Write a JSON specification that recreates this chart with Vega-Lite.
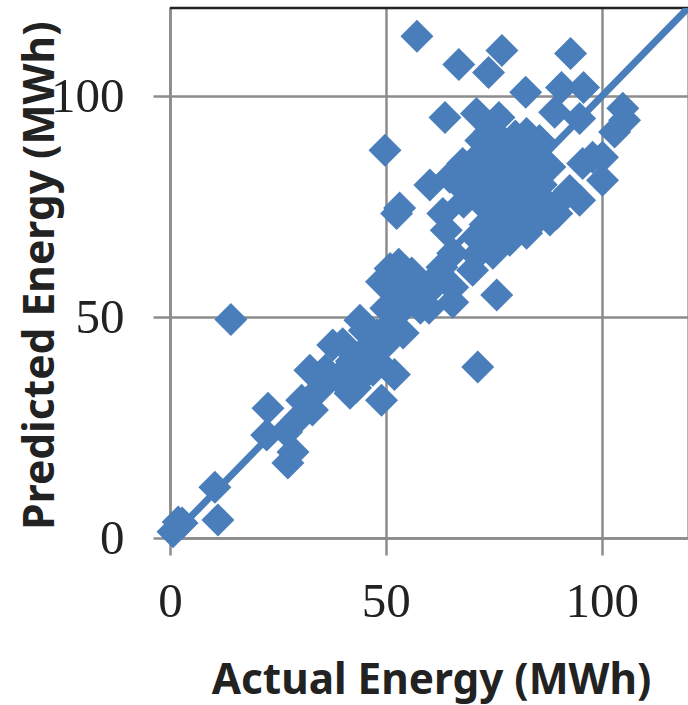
{"$schema":"https://vega.github.io/schema/vega-lite/v6.json","width":518,"height":530,"autosize":"none","padding":{"left":170,"top":8,"right":0,"bottom":167},"background":"white","view":{"stroke":"#999","strokeWidth":1.5},"config":{"axis":{"grid":true,"gridColor":"#8c8c8c","gridWidth":2.5,"domainColor":"#8c8c8c","domainWidth":2.5,"tickColor":"#8c8c8c","tickWidth":2.5,"tickSize":17,"labelFlush":false,"labelFont":"Liberation Serif","labelFontSize":49,"labelColor":"#222","titleFont":"Noto Sans","titleFontWeight":"bold","titleColor":"#222"}},"layer":[{"data":{"values":[{"a":120}]},"mark":{"type":"rule","color":"#222","strokeWidth":2.5},"encoding":{"y":{"field":"a","type":"quantitative","scale":{"domain":[0,120],"nice":false}}}},{"data":{"values":[{"actual":0,"pred":0},{"actual":120,"pred":120}]},"mark":{"type":"line","color":"#4a7ebb","strokeWidth":7,"clip":true},"encoding":{"x":{"field":"actual","type":"quantitative","scale":{"domain":[0,120],"nice":false},"axis":{"values":[0,50,100],"title":"Actual Energy (MWh)","titleFontSize":42.3,"labelPadding":22,"titleX":261,"titleY":142,"titleBaseline":"middle"}},"y":{"field":"pred","type":"quantitative","scale":{"domain":[0,120],"nice":false},"axis":{"values":[0,50,100],"title":"Predicted Energy (MWh)","titleFontSize":42.5,"labelPadding":29,"titleX":-130,"titleY":267,"titleBaseline":"middle"}}}},{"data":{"values":[{"actual":57.2,"pred":113.6},{"actual":66.9,"pred":107.2},{"actual":76.9,"pred":110.4},{"actual":73.8,"pred":105.4},{"actual":92.8,"pred":109.7},{"actual":82.4,"pred":100.9},{"actual":90.7,"pred":102},{"actual":95.8,"pred":102},{"actual":63.7,"pred":95.2},{"actual":71,"pred":96.1},{"actual":76.2,"pred":95.2},{"actual":89.1,"pred":96.4},{"actual":94.9,"pred":95},{"actual":104.9,"pred":97.3},{"actual":105.3,"pred":94.6},{"actual":103,"pred":91.9},{"actual":49.8,"pred":87.8},{"actual":53.2,"pred":74.7},{"actual":52.5,"pred":73.5},{"actual":60.2,"pred":79.9},{"actual":75.7,"pred":55},{"actual":65.5,"pred":53.4},{"actual":71.3,"pred":38.7},{"actual":14.1,"pred":49.5},{"actual":11.1,"pred":4.1},{"actual":10.4,"pred":11.5},{"actual":1.9,"pred":3.6},{"actual":0.7,"pred":1.4},{"actual":2.8,"pred":3.4},{"actual":22.7,"pred":29.4},{"actual":22.4,"pred":23.3},{"actual":28.5,"pred":19.5},{"actual":27.3,"pred":17},{"actual":33,"pred":29},{"actual":30.5,"pred":31.2},{"actual":27,"pred":24},{"actual":29.4,"pred":26.7},{"actual":32.4,"pred":38},{"actual":37.7,"pred":43.7},{"actual":41.7,"pred":32.8},{"actual":49,"pred":31.2},{"actual":52,"pred":37},{"actual":39.4,"pred":35.7},{"actual":44,"pred":49.3},{"actual":54,"pred":46.4},{"actual":42,"pred":40},{"actual":44,"pred":36},{"actual":46,"pred":42},{"actual":48,"pred":46},{"actual":45,"pred":47},{"actual":47,"pred":38},{"actual":50,"pred":44},{"actual":50,"pred":52},{"actual":52,"pred":48},{"actual":49,"pred":58},{"actual":51,"pred":61},{"actual":53,"pred":62},{"actual":55,"pred":58},{"actual":57,"pred":55},{"actual":54,"pred":52},{"actual":58,"pred":52},{"actual":60,"pred":56},{"actual":62,"pred":58},{"actual":60,"pred":52},{"actual":56,"pred":60},{"actual":43,"pred":34},{"actual":48,"pred":40},{"actual":52,"pred":56},{"actual":64.8,"pred":81.7},{"actual":67.8,"pred":84.8},{"actual":63.2,"pred":73.5},{"actual":64,"pred":69.7},{"actual":63,"pred":61.3},{"actual":65.5,"pred":64.5},{"actual":70.1,"pred":60.6},{"actual":74.8,"pred":64.5},{"actual":65.5,"pred":56.8},{"actual":58.6,"pred":56.8},{"actual":94.9,"pred":76.5},{"actual":89.6,"pred":73.5},{"actual":82.6,"pred":69},{"actual":78.7,"pred":67.4},{"actual":100.2,"pred":81},{"actual":100.2,"pred":86.2},{"actual":95.6,"pred":84.8},{"actual":92.6,"pred":78.7},{"actual":97.9,"pred":86.2},{"actual":82.6,"pred":91.6},{"actual":85.6,"pred":90},{"actual":72,"pred":90},{"actual":74,"pred":92},{"actual":77,"pred":90},{"actual":80,"pred":91},{"actual":71,"pred":86},{"actual":74,"pred":86},{"actual":77,"pred":85},{"actual":80,"pred":86},{"actual":83,"pred":86},{"actual":85,"pred":84},{"actual":70,"pred":82},{"actual":73,"pred":81},{"actual":76,"pred":80},{"actual":79,"pred":81},{"actual":82,"pred":81},{"actual":72,"pred":76},{"actual":75,"pred":75},{"actual":78,"pred":76},{"actual":81,"pred":76},{"actual":84,"pred":77},{"actual":87,"pred":76},{"actual":90,"pred":76},{"actual":73,"pred":71},{"actual":76,"pred":70},{"actual":79,"pred":71},{"actual":82,"pred":72},{"actual":85,"pred":72},{"actual":88,"pred":72},{"actual":75,"pred":66},{"actual":71,"pred":64},{"actual":68,"pred":79},{"actual":68,"pred":76},{"actual":71,"pred":68},{"actual":78,"pred":83},{"actual":75,"pred":78},{"actual":80,"pred":78},{"actual":83,"pred":74},{"actual":77,"pred":73},{"actual":86,"pred":80},{"actual":88,"pred":84},{"actual":84,"pred":88},{"actual":36,"pred":38},{"actual":40,"pred":44},{"actual":35,"pred":34}]},"mark":{"type":"point","shape":"diamond","filled":true,"opacity":1,"color":"#4a7ebb","size":1089,"clip":false},"encoding":{"x":{"field":"actual","type":"quantitative"},"y":{"field":"pred","type":"quantitative"}}}]}
